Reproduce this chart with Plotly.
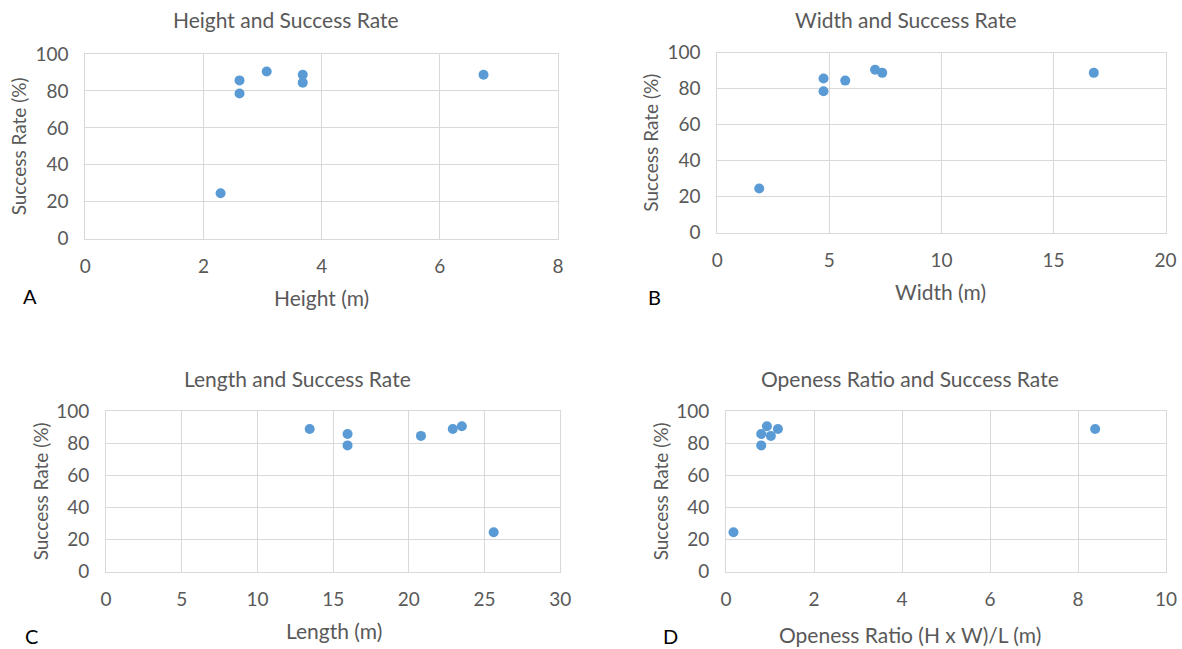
import plotly.graph_objects as go

# Measured dimensions of each case and its success rate
height_m = [2.29, 2.61, 2.61, 3.07, 3.68, 3.68, 6.74]
width_m = [1.87, 4.74, 4.74, 7.04, 7.36, 5.71, 16.8]
length_m = [25.6, 15.95, 15.95, 23.5, 22.9, 20.8, 13.45]
openness = [0.17, 0.80, 0.80, 0.93, 1.18, 1.02, 8.39]
success_rate = [24.6, 78.6, 85.7, 90.5, 88.8, 84.5, 88.8]

W, H = 1182, 649
FONT = "Lato"
GREY = "#595959"
GRID = "#D9D9D9"
BLUE = "#5B9BD5"


def fx(px):
    return px / W


def fy(py):
    return 1 - py / H


# panel: x data, x range, x dtick, plot box (left, right, top, bottom in px),
# title, x title, letter
panels = [
    dict(x=height_m, rng=[0, 8], dt=2, box=(85.3, 558, 54, 238.7),
         title="Height and Success Rate", title_xy=(286, 20),
         xt="Height (m)", xt_xy=(321, 297), yt_x=18, letter="A", letter_xy=(30, 296)),
    dict(x=width_m, rng=[0, 20], dt=5, box=(717.3, 1165.5, 52.7, 232.7),
         title="Width and Success Rate", title_xy=(905, 19),
         xt="Width (m)", xt_xy=(940, 292), yt_x=651, letter="B", letter_xy=(654, 297)),
    dict(x=length_m, rng=[0, 30], dt=5, box=(106, 560.3, 411, 571.7),
         title="Length and Success Rate", title_xy=(297, 378),
         xt="Length (m)", xt_xy=(334, 630), yt_x=40, letter="C", letter_xy=(31, 636)),
    dict(x=openness, rng=[0, 10], dt=2, box=(726, 1166, 411, 571.7),
         title="Openess Ratio and Success Rate", title_xy=(910, 378),
         xt="Openess Ratio (H x W)/L (m)", xt_xy=(910, 634), yt_x=660, letter="D", letter_xy=(670, 636)),
]

fig = go.Figure()
annotations = []
layout_axes = {}

for i, p in enumerate(panels, start=1):
    xa = "x" if i == 1 else f"x{i}"
    ya = "y" if i == 1 else f"y{i}"
    left, right, top, bottom = p["box"]
    fig.add_trace(go.Scatter(
        x=p["x"], y=success_rate, mode="markers",
        marker=dict(color=BLUE, size=10, line=dict(width=0)),
        xaxis=xa, yaxis=ya, showlegend=False,
    ))
    axis_common = dict(
        showgrid=True, gridcolor=GRID, gridwidth=1,
        showline=True, linecolor=GRID, linewidth=1, mirror=True,
        zeroline=False, ticks="", automargin=False,
        tickfont=dict(family=FONT, size=19, color=GREY),
        fixedrange=True,
    )
    layout_axes["xaxis" if i == 1 else f"xaxis{i}"] = dict(
        axis_common, domain=[fx(left), fx(right)], range=p["rng"], dtick=p["dt"],
        tick0=0, anchor=ya, ticklabelstandoff=10,
    )
    layout_axes["yaxis" if i == 1 else f"yaxis{i}"] = dict(
        axis_common, domain=[fy(bottom), fy(top)], range=[0, 100], dtick=20,
        tick0=0, anchor=xa, ticklabelstandoff=12,
    )
    annotations.append(dict(
        text=p["title"], x=fx(p["title_xy"][0]), y=fy(p["title_xy"][1]),
        xref="paper", yref="paper", showarrow=False, xanchor="center", yanchor="middle",
        font=dict(family=FONT, size=21, color=GREY),
    ))
    annotations.append(dict(
        text=p["xt"], x=fx(p["xt_xy"][0]), y=fy(p["xt_xy"][1]),
        xref="paper", yref="paper", showarrow=False, xanchor="center", yanchor="middle",
        font=dict(family=FONT, size=21, color=GREY),
    ))
    annotations.append(dict(
        text="Success Rate (%)", x=fx(p["yt_x"]), y=fy((top + bottom) / 2),
        xref="paper", yref="paper", showarrow=False, xanchor="center", yanchor="middle",
        textangle=-90, font=dict(family=FONT, size=19, color=GREY),
    ))
    annotations.append(dict(
        text=p["letter"], x=fx(p["letter_xy"][0]), y=fy(p["letter_xy"][1]),
        xref="paper", yref="paper", showarrow=False, xanchor="center", yanchor="middle",
        font=dict(family=FONT, size=20, color="#000000"),
    ))

fig.update_layout(
    template="none",
    width=W, height=H,
    margin=dict(l=0, r=0, t=0, b=0, pad=0, autoexpand=False),
    paper_bgcolor="white", plot_bgcolor="white",
    annotations=annotations,
    **layout_axes,
)

fig.write_html("out.html", config={"displayModeBar": False})
